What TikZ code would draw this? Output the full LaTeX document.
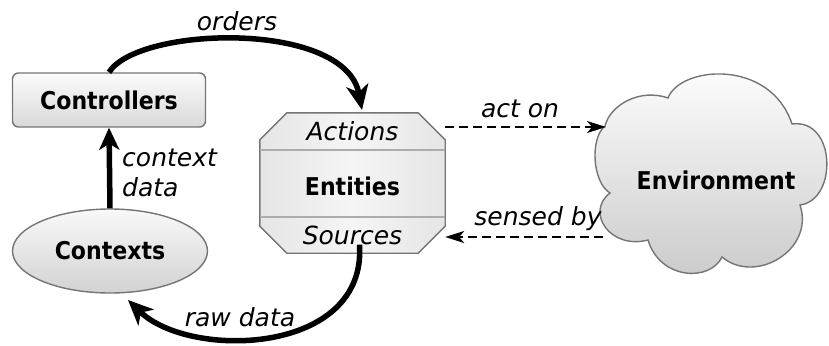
\documentclass[tikz,border=0pt]{standalone}
\usepackage{fontspec}
\setmainfont{DejaVu Sans}
\newfontfamily\condfont{DejaVu Sans}[FakeStretch=0.9]
\usetikzlibrary{arrows.meta,shapes.geometric,calc}
\begin{document}
\begin{tikzpicture}[x=1pt,y=-1pt,
  boxtext/.style={font=\condfont\fontsize{24.5}{28}\selectfont\bfseries},
  lbl/.style={font=\fontsize{25}{28}\selectfont\itshape, inner sep=0pt},
  shapeborder/.style={draw=gray!65!black!80, line width=1.4pt},
  thickarrow/.style={line width=5.5pt, -{Stealth[length=25pt,width=22pt,inset=7pt]}},
  dasharrow/.style={line width=1.8pt, dash pattern=on 9pt off 5pt, -{Stealth[length=19pt,width=12pt,inset=5pt]}}
]
\useasboundingbox (0,0) rectangle (829,345);

% Controllers
\node[boxtext, shapeborder, rounded corners=6pt, top color=gray!3, bottom color=gray!30,
  minimum width=193pt, minimum height=54pt] (ctrl) at (109,100) {Controllers};

% Contexts
\node[boxtext, shapeborder, ellipse, top color=gray!5, bottom color=gray!35,
  minimum width=195pt, minimum height=84pt, inner sep=0pt] (ctx) at (110,251) {Contexts};

% Entities
\node[minimum width=185pt, minimum height=140pt, inner sep=0pt] (ent) at (352.5,183) {};
\fill[left color=gray!20, right color=gray!20, middle color=gray!8, shapeborder]
  ($(ent.north west)+(27,0)$) -- ($(ent.north east)+(-27,0)$) -- ($(ent.north east)+(0,27)$)
  -- ($(ent.south east)+(0,-27)$) -- ($(ent.south east)+(-27,0)$) -- ($(ent.south west)+(27,0)$)
  -- ($(ent.south west)+(0,-27)$) -- ($(ent.north west)+(0,27)$) -- cycle;
\draw[draw=gray!65, line width=1.4pt] ($(ent.north west)+(0,37)$) -- ($(ent.north east)+(0,37)$);
\draw[draw=gray!65, line width=1.4pt] ($(ent.north west)+(0,104)$) -- ($(ent.north east)+(0,104)$);
\node[lbl] (actions) at (352.5,131) {Actions};
\node[boxtext] (entities) at (352.5,186) {Entities};
\node[lbl] (sources) at (352.5,235) {Sources};

% Environment (cloud drawn directly)
\path[shapeborder, top color=white, bottom color=gray!42]
  (605,126) .. controls (610,105) and (640,88) .. (668,98)
  .. controls (680,66) and (770,58) .. (792,124)
  .. controls (836,118) and (838,200) .. (800,205)
  .. controls (815,250) and (755,285) .. (722,257)
  .. controls (710,282) and (660,280) .. (648,240)
  .. controls (610,250) and (585,212) .. (610,193)
  .. controls (592,182) and (590,138) .. (605,126) -- cycle;
\node[boxtext] (env) at (716,180) {Environment};

% Connectors
\coordinate (ordersend) at (362,110);
\draw[thickarrow] (ctrl.north) .. controls (138,26) and (345,20) .. (ordersend);
\node[lbl] (orderslbl) at (237,21) {orders};

\draw[thickarrow, -{Stealth[length=22pt,width=20pt,inset=6pt]}] (ctx.north) -- (ctrl.south);
\node[lbl, anchor=north west, align=left, font=\fontsize{25}{30}\selectfont\itshape] (ctxlbl) at (122,149) {context\\data};

\coordinate (rawend) at (128,300);
\draw[thickarrow] (ent.south |- sources.south) ++(7,0) .. controls (367,355) and (190,360) .. (rawend);
\node[lbl] (rawlbl) at (240,317) {raw data};

\coordinate (actonstart) at (ent.east |- 0,127);
\coordinate (actonend) at (606,127);
\draw[dasharrow] (actonstart) -- (actonend);
\node[lbl] (actonlbl) at (520,109) {act on};

\coordinate (sensedstart) at (603,237);
\coordinate (sensedend) at (ent.east |- 0,237);
\draw[dasharrow] (sensedstart) -- (sensedend);
\node[lbl] (sensedlbl) at (538,219) {sensed by};
\end{tikzpicture}
\end{document}
